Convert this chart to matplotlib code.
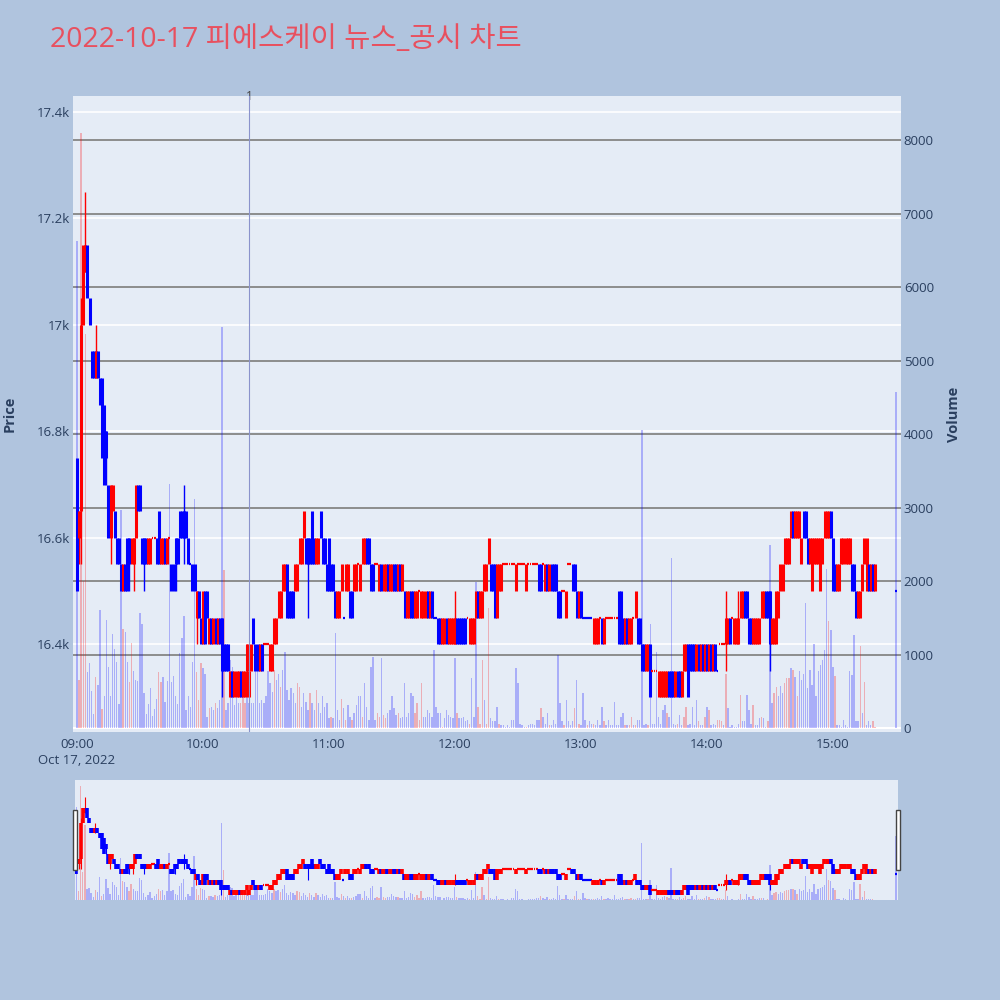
import matplotlib
matplotlib.use("Agg")
import matplotlib.pyplot as plt
from matplotlib.patches import Rectangle
from matplotlib.ticker import FuncFormatter
from matplotlib.transforms import blended_transform_factory

plt.rcParams['font.family'] = ['Open Sans', 'Noto Sans CJK KR', 'DejaVu Sans']

# ---------------------------------------------------------------------------
# Data: 1-minute candles, 2022-10-17 (minutes after 09:00); last one = 15:30 close
# ---------------------------------------------------------------------------
minutes = list(range(381)) + [390]

opens = [
    16750, 16600, 16650, 17000, 17100, 17150, 17050, 16950, 16950, 16900,
    16950, 16900, 16900, 16850, 16800, 16700, 16600, 16650, 16650, 16600,
    16600, 16550, 16500, 16550, 16600, 16600, 16550, 16550, 16600, 16700,
    16700, 16600, 16600, 16600, 16550, 16550, 16600, 16600, 16600, 16650,
    16550, 16550, 16600, 16550, 16600, 16550, 16550, 16600, 16600, 16650,
    16650, 16650, 16650, 16600, 16550, 16550, 16550, 16450, 16500, 16450,
    16400, 16500, 16500, 16400, 16450, 16400, 16450, 16400, 16450, 16450,
    16400, 16400, 16400, 16300, 16350, 16300, 16300, 16300, 16350, 16300,
    16300, 16350, 16300, 16350, 16450, 16400, 16400, 16350, 16400, 16400,
    16400, 16400, 16350, 16350, 16400, 16400, 16450, 16450, 16500, 16500,
    16550, 16500, 16500, 16500, 16500, 16500, 16550, 16550, 16600, 16600,
    16600, 16600, 16650, 16600, 16550, 16550, 16650, 16600, 16600, 16550,
    16600, 16550, 16550, 16500, 16450, 16450, 16500, 16450, 16500, 16500,
    16500, 16500, 16500, 16500, 16550, 16500, 16550, 16550, 16600, 16600,
    16550, 16550, 16550, 16550, 16500, 16550, 16500, 16500, 16550, 16500,
    16500, 16550, 16550, 16500, 16550, 16500, 16500, 16450, 16450, 16500,
    16500, 16450, 16450, 16500, 16450, 16450, 16450, 16500, 16450, 16500,
    16450, 16450, 16450, 16450, 16400, 16400, 16450, 16400, 16400, 16400,
    16400, 16450, 16450, 16450, 16450, 16450, 16450, 16400, 16400, 16400,
    16450, 16500, 16450, 16450, 16500, 16500, 16550, 16550, 16550, 16550,
    16450, 16500, 16500, 16550, 16550, 16550, 16550, 16550, 16550, 16500,
    16550, 16550, 16550, 16550, 16500, 16550, 16550, 16550, 16550, 16550,
    16550, 16550, 16550, 16500, 16550, 16500, 16550, 16550, 16550, 16500,
    16500, 16500, 16500, 16450, 16550, 16550, 16550, 16550, 16500, 16450,
    16500, 16450, 16450, 16450, 16450, 16450, 16400, 16400, 16400, 16450,
    16450, 16400, 16450, 16450, 16450, 16450, 16450, 16450, 16500, 16500,
    16450, 16400, 16450, 16400, 16400, 16450, 16450, 16450, 16450, 16400,
    16400, 16350, 16350, 16400, 16350, 16350, 16350, 16300, 16300, 16300,
    16300, 16300, 16350, 16350, 16350, 16300, 16350, 16350, 16300, 16350,
    16350, 16400, 16400, 16400, 16400, 16350, 16400, 16350, 16400, 16350,
    16400, 16350, 16400, 16350, 16400, 16350, 16400, 16400, 16400, 16400,
    16400, 16450, 16450, 16400, 16400, 16400, 16450, 16450, 16500, 16500,
    16450, 16450, 16400, 16400, 16400, 16400, 16450, 16450, 16500, 16500,
    16500, 16400, 16400, 16400, 16450, 16500, 16500, 16550, 16550, 16550,
    16600, 16650, 16600, 16600, 16600, 16550, 16650, 16650, 16600, 16550,
    16500, 16550, 16550, 16550, 16500, 16550, 16600, 16600, 16600, 16650,
    16600, 16550, 16500, 16500, 16550, 16550, 16550, 16550, 16550, 16550,
    16550, 16500, 16450, 16450, 16500, 16550, 16500, 16550, 16500, 16550,
    16500,
    16500,
]

closes = [
    16500, 16650, 17000, 17150, 17150, 17050, 17000, 16900, 16900, 16950,
    16900, 16850, 16750, 16700, 16750, 16600, 16700, 16700, 16600, 16550,
    16550, 16500, 16550, 16500, 16500, 16550, 16600, 16600, 16700, 16650,
    16650, 16550, 16550, 16550, 16600, 16600, 16600, 16600, 16550, 16550,
    16600, 16600, 16550, 16600, 16600, 16500, 16500, 16550, 16550, 16600,
    16600, 16600, 16600, 16550, 16550, 16500, 16500, 16500, 16450, 16400,
    16500, 16400, 16450, 16450, 16400, 16450, 16400, 16450, 16400, 16350,
    16350, 16350, 16350, 16350, 16300, 16350, 16350, 16350, 16300, 16350,
    16350, 16400, 16350, 16400, 16400, 16350, 16350, 16400, 16350, 16400,
    16400, 16400, 16400, 16400, 16450, 16450, 16500, 16500, 16550, 16550,
    16450, 16450, 16450, 16450, 16550, 16550, 16600, 16600, 16650, 16550,
    16550, 16550, 16550, 16550, 16600, 16600, 16600, 16550, 16550, 16500,
    16500, 16500, 16500, 16450, 16500, 16500, 16550, 16450, 16550, 16550,
    16450, 16450, 16550, 16550, 16550, 16550, 16600, 16600, 16550, 16550,
    16500, 16500, 16550, 16550, 16550, 16500, 16550, 16550, 16500, 16550,
    16550, 16500, 16500, 16550, 16500, 16550, 16450, 16500, 16500, 16450,
    16450, 16500, 16500, 16500, 16500, 16500, 16500, 16450, 16500, 16450,
    16450, 16450, 16400, 16400, 16450, 16450, 16400, 16450, 16450, 16450,
    16450, 16400, 16400, 16400, 16400, 16400, 16450, 16450, 16450, 16450,
    16500, 16450, 16500, 16500, 16550, 16550, 16600, 16500, 16500, 16450,
    16550, 16550, 16550, 16550, 16550, 16550, 16550, 16550, 16550, 16550,
    16550, 16550, 16550, 16550, 16550, 16550, 16550, 16550, 16550, 16550,
    16500, 16500, 16550, 16550, 16500, 16550, 16500, 16500, 16500, 16450,
    16450, 16500, 16500, 16500, 16550, 16550, 16500, 16500, 16450, 16500,
    16450, 16450, 16450, 16450, 16450, 16450, 16450, 16450, 16450, 16450,
    16400, 16450, 16450, 16450, 16450, 16450, 16450, 16450, 16400, 16400,
    16400, 16450, 16400, 16450, 16450, 16450, 16500, 16400, 16400, 16350,
    16350, 16400, 16400, 16300, 16350, 16350, 16350, 16350, 16350, 16350,
    16350, 16350, 16300, 16300, 16300, 16350, 16300, 16300, 16350, 16400,
    16400, 16300, 16350, 16350, 16350, 16400, 16350, 16400, 16350, 16400,
    16350, 16400, 16350, 16400, 16350, 16350, 16400, 16400, 16400, 16450,
    16450, 16400, 16450, 16450, 16450, 16450, 16500, 16500, 16450, 16450,
    16400, 16400, 16450, 16450, 16450, 16450, 16500, 16500, 16450, 16450,
    16400, 16450, 16450, 16500, 16500, 16550, 16550, 16600, 16600, 16600,
    16650, 16600, 16650, 16650, 16650, 16600, 16600, 16600, 16550, 16600,
    16600, 16600, 16600, 16600, 16600, 16600, 16650, 16650, 16650, 16600,
    16500, 16500, 16550, 16550, 16600, 16600, 16600, 16600, 16600, 16500,
    16500, 16450, 16500, 16500, 16550, 16600, 16600, 16500, 16550, 16500,
    16550,
    16500,
]

# wicks that reach beyond the body (minute -> price)
wick_high = {2: 17050, 4: 17250, 9: 17000, 51: 16700, 180: 16500,
             309: 16500, 315: 16500}
wick_low = {1: 16550, 2: 16550, 14: 16700, 16: 16550, 25: 16500, 27: 16500,
            32: 16500, 47: 16500, 51: 16550, 57: 16400, 69: 16300, 81: 16300,
            110: 16450, 309: 16350, 330: 16350}

volumes = [
    6630, 660, 8100, 2000, 5360, 760, 880, 500, 190, 690,
    590, 1610, 260, 430, 1470, 830, 430, 1280, 1070, 900,
    330, 2970, 1350, 1300, 900, 620, 1160, 780, 660, 640,
    1560, 1420, 480, 190, 330, 540, 170, 260, 400, 760,
    620, 690, 360, 640, 3320, 620, 710, 430, 330, 1020,
    1230, 1520, 240, 430, 280, 900, 3110, 760, 380, 880,
    810, 740, 150, 270, 290, 240, 340, 270, 380, 5460,
    2150, 240, 340, 925, 830, 310, 430, 340, 340, 560,
    340, 520, 340, 340, 340, 880, 830, 340, 380, 340,
    430, 770, 610, 490, 790, 650, 740, 560, 790, 1040,
    520, 380, 540, 470, 340, 610, 560, 290, 470, 360,
    240, 470, 340, 240, 520, 340, 200, 430, 290, 340,
    130, 150, 130, 1290, 240, 110, 400, 270, 110, 310,
    150, 110, 200, 310, 430, 430, 150, 610, 290, 110,
    830, 970, 110, 200, 150, 950, 180, 130, 200, 240,
    430, 270, 180, 200, 130, 150, 610, 150, 200, 470,
    430, 200, 340, 110, 610, 150, 150, 240, 200, 150,
    1060, 290, 200, 200, 20, 130, 240, 180, 150, 130,
    950, 200, 130, 130, 150, 90, 110, 60, 680, 150,
    1990, 290, 60, 930, 380, 60, 1630, 130, 90, 90,
    290, 60, 40, 40, 20, 40, 20, 110, 110, 810,
    610, 60, 40, 20, 20, 40, 60, 60, 40, 110,
    110, 270, 150, 60, 200, 40, 40, 110, 60, 990,
    340, 90, 40, 380, 90, 40, 90, 270, 650, 60,
    40, 470, 110, 40, 90, 60, 60, 40, 110, 40,
    290, 90, 40, 110, 40, 40, 360, 40, 40, 150,
    200, 40, 40, 40, 150, 40, 40, 110, 110, 4050,
    40, 60, 40, 1420, 60, 60, 1040, 150, 60, 240,
    310, 200, 150, 2310, 60, 40, 60, 180, 40, 150,
    280, 40, 60, 290, 40, 380, 90, 40, 40, 150,
    280, 240, 40, 60, 40, 110, 110, 90, 40, 740,
    270, 20, 40, 20, 20, 60, 450, 90, 90, 450,
    240, 60, 310, 40, 40, 130, 150, 130, 20, 90,
    2490, 340, 470, 560, 430, 570, 470, 610, 680, 680,
    810, 790, 700, 430, 770, 660, 740, 1700, 540, 790,
    590, 1150, 430, 770, 860, 930, 1060, 2170, 1450, 1330,
    830, 710, 40, 40, 20, 110, 40, 20, 770, 720,
    1270, 90, 90, 1110, 200, 630, 40, 90, 40, 90,
    20,
    4570,
]

# r = red (buy) bar, b = blue (sell) bar
volume_side = (
    "brrrrbbbbr" "bbrbbbbbbb" "bbrbbrrbbb" "bbbbbbbbbr" "rbbbbbbbbb"
    "bbbbbbbrrr" "bbbrbbrbbb" "rbbbbbbbrr" "rbbbbbbbbb" "bbbbrbbrbb"
    "bbbbbrrbbb" "brbbrbbbbb" "brbbbbrbrb" "brbbbbrbbb" "bbbrrbrrbb"
    "bbbrbbbbbb" "brrrrbbbbb" "bbbbrbbbbb" "brbbbbbrbb" "brrrbrrbbb"
    "brbbbbbbbb" "bbbbrbbbbb" "brbbbrbbbb" "bbrbbbbrbr" "bbbrbbrbbb"
    "brbbbbbbbb" "brbrrbrbbb" "bbrbbbbbbb" "brbbbbrbbr" "rbbbbbrbbr"
    "brbbbrrrbr" "bbbbbbrbbb" "bbrbbbrbbr" "bbrrbbbrrr" "brbrbbbbbb"
    "bbbbbbbbrb" "brbbbbbbbb" "bbbrbrbbbr" "r" "b"
)

news_minute = 82          # marker "1" (10:22)
hour_ticks = [0, 60, 120, 180, 240, 300, 360]
hour_labels = ["09:00\nOct 17, 2022", "10:00", "11:00", "12:00",
               "13:00", "14:00", "15:00"]
price_ticks = [16400, 16600, 16800, 17000, 17200, 17400]
volume_ticks = [0, 1000, 2000, 3000, 4000, 5000, 6000, 7000, 8000]

UP, DOWN = "#ff0000", "#0000ff"
TEXT = "#2a3f5f"
PLOT_BG = "#E5ECF6"
PAPER_BG = "#B0C4DE"

# candle direction (equal open/close follows the previous close, then previous direction)
colors = []
prev_close, prev_col = None, DOWN
for o, c in zip(opens, closes):
    if c > o:
        col = UP
    elif c < o:
        col = DOWN
    elif prev_close is not None and c > prev_close:
        col = UP
    elif prev_close is not None and c < prev_close:
        col = DOWN
    else:
        col = prev_col
    colors.append(col)
    prev_close, prev_col = c, col

vol_colors = [UP if s == "r" else DOWN for s in volume_side]


def draw_candles(ax, body_lw, wick_lw, doji_lw):
    for m, o, c, col in zip(minutes, opens, closes, colors):
        hi = wick_high.get(m, max(o, c))
        lo = wick_low.get(m, min(o, c))
        if hi > max(o, c) or lo < min(o, c):
            ax.vlines(m, lo, hi, colors=col, lw=wick_lw, zorder=3)
        if o != c:
            ax.vlines(m, min(o, c), max(o, c), colors=col, lw=body_lw, zorder=4)
        else:
            ax.hlines(c, m - 0.45, m + 0.45, colors=col, lw=doji_lw, zorder=4)


def draw_volume(ax, width, alpha):
    ax.bar(minutes, volumes, width=width, color=vol_colors, alpha=alpha,
           linewidth=0, zorder=2)


fig = plt.figure(figsize=(10, 10), dpi=100, facecolor=PAPER_BG)

# ---------------------------------------------------------------------------
# Main panel: volume axes underneath (background + grids), price axes on top
# ---------------------------------------------------------------------------
rect = [0.0725, 0.268, 0.8285, 0.636]
ax_v = fig.add_axes(rect)
ax_p = fig.add_axes(rect, sharex=ax_v)
ax_v.set_facecolor(PLOT_BG)
ax_p.patch.set_visible(False)

ax_v.set_xlim(-2.1, 392.4)
ax_p.set_ylim(16235, 17430)
ax_v.set_ylim(-54, 8599)

# price grid (white) lives on the bottom axes so it stays under everything
tr = blended_transform_factory(ax_v.transAxes, ax_p.transData)
for p in price_ticks:
    ax_v.plot([0, 1], [p, p], transform=tr, color="white", lw=1.2, zorder=0.6)
ax_v.plot([0, 1], [0, 0], color="white", lw=1.5, zorder=0.6,
          transform=blended_transform_factory(ax_v.transAxes, ax_v.transData))
for v in volume_ticks[1:]:
    ax_v.axhline(v, color="#858585", lw=1.3, zorder=0.7)

draw_volume(ax_v, width=0.65, alpha=0.26)
draw_candles(ax_p, body_lw=2.2, wick_lw=1.0, doji_lw=1.6)

# news marker
ax_p.axvline(news_minute, color="#8a93cc", lw=0.8, zorder=5)
ax_p.text(news_minute, 1.0, "1", transform=blended_transform_factory(ax_p.transData, ax_p.transAxes),
          ha="center", va="center", fontsize=8.5, color="#444444")

for a in (ax_v, ax_p):
    for s in a.spines.values():
        s.set_visible(False)
    a.tick_params(length=0)

ax_v.yaxis.tick_right()
ax_v.set_yticks(volume_ticks)
ax_v.tick_params(axis="y", labelsize=9.5, labelcolor=TEXT, pad=2)
ax_v.set_xticks(hour_ticks)
ax_v.set_xticklabels(hour_labels, linespacing=1.35)
ax_v.tick_params(axis="x", labelsize=9.5, labelcolor=TEXT, pad=4)

ax_p.set_yticks(price_ticks)
ax_p.yaxis.set_major_formatter(FuncFormatter(
    lambda v, _: f"{v / 1000:g}k"))
ax_p.tick_params(axis="y", labelsize=9.5, labelcolor=TEXT, pad=2)
ax_p.tick_params(axis="x", labelbottom=False)

fig.text(0.010, 0.586, "Price", rotation=90, ha="center", va="center",
         fontsize=10.5, fontweight="bold", color=TEXT)
fig.text(0.954, 0.586, "Volume", rotation=90, ha="center", va="center",
         fontsize=10.5, fontweight="bold", color=TEXT)

# ---------------------------------------------------------------------------
# Range slider (overview of the whole session)
# ---------------------------------------------------------------------------
srect = [0.075, 0.100, 0.823, 0.120]
sl_v = fig.add_axes(srect)
sl_p = fig.add_axes(srect, sharex=sl_v)
sl_v.set_facecolor(PLOT_BG)
sl_p.patch.set_visible(False)
sl_v.set_xlim(-0.7, 391)
sl_v.set_ylim(0, 8530)
sl_p.set_ylim(16252, 17418)
draw_volume(sl_v, width=0.65, alpha=0.26)
draw_candles(sl_p, body_lw=2.6, wick_lw=0.8, doji_lw=1.6)
for a in (sl_v, sl_p):
    a.set_xticks([])
    a.set_yticks([])
    for s in a.spines.values():
        s.set_visible(False)

for hx in (0.0733, 0.8962):
    fig.add_artist(Rectangle((hx, 0.130), 0.004, 0.060, transform=fig.transFigure,
                             facecolor="white", edgecolor="#444444", lw=1.0))

fig.text(0.050, 0.960, "2022-10-17 피에스케이 뉴스_공시 차트", ha="left", va="center",
         fontsize=20.5, color="#e8505f")

fig.savefig("out.png", dpi=100, facecolor=PAPER_BG)
